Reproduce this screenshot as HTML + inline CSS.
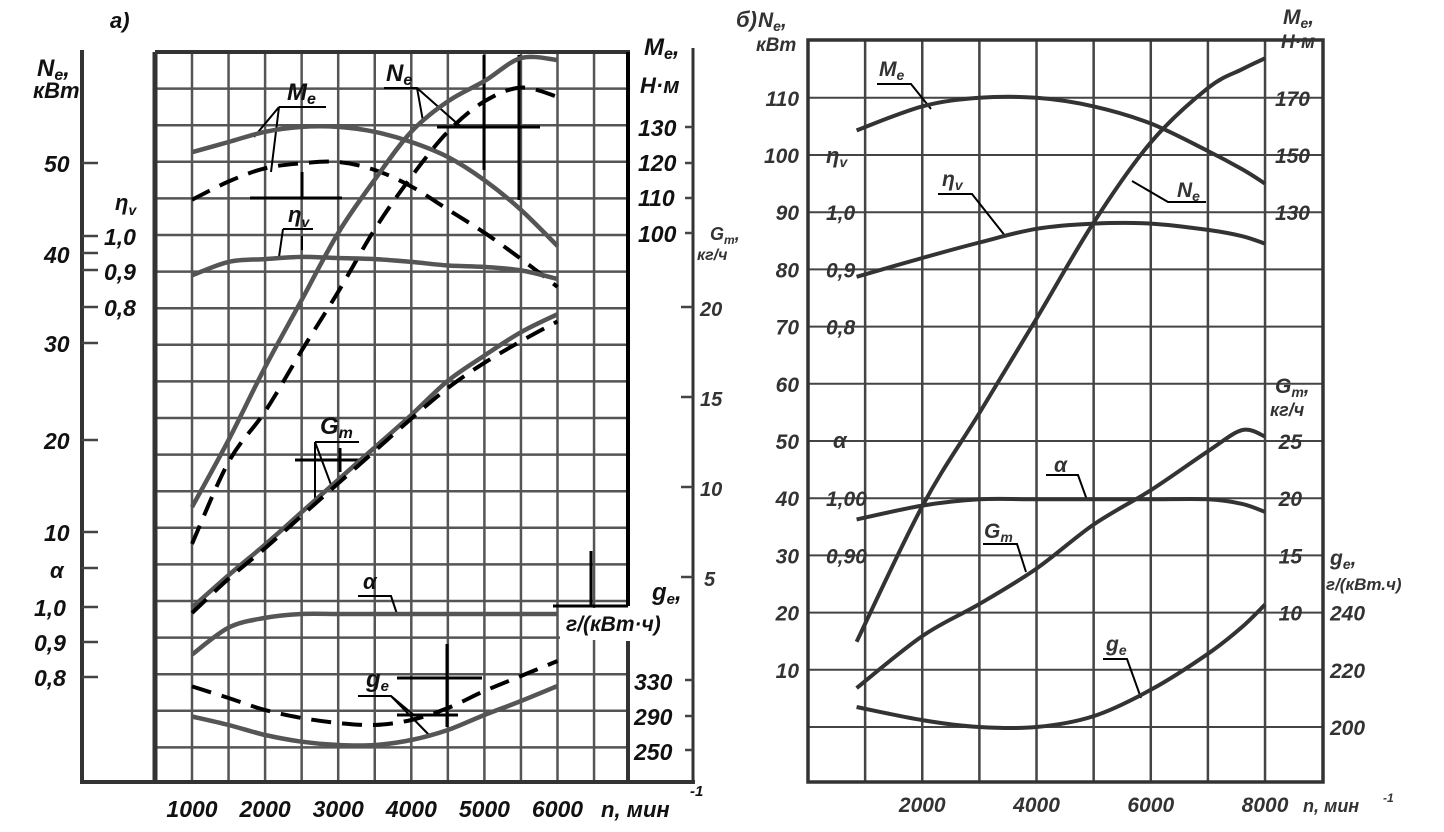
<!DOCTYPE html>
<html><head><meta charset="utf-8">
<style>
html,body{margin:0;padding:0;background:#fff;}
svg{display:block;}
.lb{font-family:"Liberation Sans",sans-serif;font-weight:bold;font-style:italic;fill:#111;}
.rb{font-family:"Liberation Sans",sans-serif;font-style:italic;fill:#333;font-weight:bold;}
</style></head>
<body>
<svg id="chart" width="1444" height="832" viewBox="0 0 1444 832" xmlns="http://www.w3.org/2000/svg">
<rect x="0" y="0" width="1444" height="832" fill="#fff"/>
<g id="gridA"></g>
<g id="gridB"></g>
<g stroke="#333" fill="none">
<line x1="82" y1="50" x2="82" y2="783" stroke-width="4"/>
<line x1="80" y1="782" x2="695" y2="782" stroke-width="4"/>
<line x1="155" y1="52" x2="155" y2="782" stroke-width="5"/>
<line x1="155" y1="52" x2="630" y2="52" stroke-width="4"/>
<line x1="693" y1="48" x2="693" y2="782" stroke-width="3"/>
<line x1="628" y1="52" x2="628" y2="606" stroke="#000" stroke-width="4"/>
<line x1="628" y1="641" x2="628" y2="782" stroke-width="4"/>
</g>
<rect x="560" y="608" width="130" height="32" fill="#fff"/>
<g stroke="#444" stroke-width="2.5">
<line x1="82" y1="163" x2="98" y2="163"/><line x1="82" y1="253" x2="98" y2="253"/><line x1="82" y1="343" x2="98" y2="343"/><line x1="82" y1="440" x2="98" y2="440"/><line x1="82" y1="532" x2="98" y2="532"/>
<line x1="82" y1="236" x2="98" y2="236"/><line x1="82" y1="270" x2="98" y2="270"/><line x1="82" y1="307" x2="98" y2="307"/>
<line x1="82" y1="568" x2="98" y2="568"/><line x1="82" y1="607" x2="98" y2="607"/><line x1="82" y1="642" x2="98" y2="642"/><line x1="82" y1="677" x2="98" y2="677"/>
<line x1="685" y1="127" x2="693" y2="127"/><line x1="685" y1="163" x2="693" y2="163"/><line x1="685" y1="198" x2="693" y2="198"/><line x1="685" y1="233" x2="693" y2="233"/>
<line x1="681" y1="307" x2="693" y2="307"/><line x1="681" y1="397" x2="693" y2="397"/><line x1="681" y1="487" x2="693" y2="487"/><line x1="681" y1="577" x2="693" y2="577"/>
<line x1="685" y1="680" x2="693" y2="680"/><line x1="685" y1="716" x2="693" y2="716"/><line x1="685" y1="750" x2="693" y2="750"/>
</g>
<g>
<text class="lb" x="110" y="28" font-size="22">a)</text>
<text class="lb" x="37" y="76" font-size="24">N<tspan font-size="16" dy="4">e</tspan><tspan dy="-4">,</tspan></text>
<text class="lb" x="33" y="98" font-size="22">кВт</text>
<text class="lb" x="44" y="172" font-size="23">50</text>
<text class="lb" x="44" y="263" font-size="23">40</text>
<text class="lb" x="44" y="352" font-size="23">30</text>
<text class="lb" x="44" y="449" font-size="23">20</text>
<text class="lb" x="44" y="541" font-size="23">10</text>
<text class="lb" x="115" y="210" font-size="22" font-weight="normal">η<tspan font-size="14" dy="5">v</tspan></text>
<text class="lb" x="104" y="245" font-size="23">1,0</text>
<text class="lb" x="104" y="280" font-size="23">0,9</text>
<text class="lb" x="104" y="316" font-size="23">0,8</text>
<text class="lb" x="50" y="578" font-size="22" font-weight="normal">α</text>
<text class="lb" x="34" y="616" font-size="23">1,0</text>
<text class="lb" x="34" y="651" font-size="23">0,9</text>
<text class="lb" x="34" y="686" font-size="23">0,8</text>
<text class="lb" x="644" y="55" font-size="24">M<tspan font-size="16" dy="4">e</tspan><tspan dy="-4">,</tspan></text>
<text class="lb" x="640" y="93" font-size="22">Н·м</text>
<text class="lb" x="638" y="136" font-size="23">130</text>
<text class="lb" x="638" y="171" font-size="23">120</text>
<text class="lb" x="638" y="206" font-size="23">110</text>
<text class="lb" x="638" y="242" font-size="23">100</text>
<text class="rb" x="710" y="240" font-size="18">G<tspan font-size="12" dy="4">т</tspan><tspan dy="-4">,</tspan></text>
<text class="rb" x="697" y="260" font-size="16">кг/ч</text>
<text class="rb" x="700" y="316" font-size="20" font-weight="normal">20</text>
<text class="rb" x="700" y="406" font-size="20" font-weight="normal">15</text>
<text class="rb" x="700" y="496" font-size="20" font-weight="normal">10</text>
<text class="rb" x="704" y="586" font-size="20" font-weight="normal">5</text>
<text class="lb" x="652" y="600" font-size="24">g<tspan font-size="15" dy="4">e</tspan><tspan dy="-4">,</tspan></text>
<text class="lb" x="566" y="631" font-size="21">г/(кВт·ч)</text>
<text class="lb" x="634" y="690" font-size="23">330</text>
<text class="lb" x="634" y="725" font-size="23">290</text>
<text class="lb" x="634" y="760" font-size="23">250</text>
<text class="lb" x="601" y="817" font-size="22">n, мин</text>
<text class="lb" x="690" y="796" font-size="15">-1</text>
</g>
<g id="xlabA"></g>
<g>
<rect x="808" y="40" width="515" height="742" fill="none" stroke="#333" stroke-width="3.5"/>
</g>
<g>
<text class="rb" x="736" y="27" font-size="22">б)</text>
<text class="rb" x="758" y="27" font-size="21" font-weight="normal">N<tspan font-size="14" dy="4">e</tspan><tspan dy="-4">,</tspan></text>
<text class="rb" x="756" y="51" font-size="19" font-weight="normal">кВт</text>
<text class="rb" x="1283" y="24" font-size="21" font-weight="normal">M<tspan font-size="14" dy="4">e</tspan><tspan dy="-4">,</tspan></text>
<text class="rb" x="1281" y="48" font-size="19" font-weight="normal">Н·м</text>
<text class="rb" x="1275" y="393" font-size="21" font-weight="normal">G<tspan font-size="14" dy="4">т</tspan><tspan dy="-4">,</tspan></text>
<text class="rb" x="1270" y="416" font-size="18" font-weight="normal">кг/ч</text>
<text class="rb" x="1330" y="565" font-size="21" font-weight="normal">g<tspan font-size="14" dy="4">e</tspan><tspan dy="-4">,</tspan></text>
<text class="rb" x="1326" y="590" font-size="17" font-weight="normal">г/(кВт.ч)</text>
<text class="rb" x="826" y="163" font-size="22" font-weight="normal">η<tspan font-size="14" dy="4">v</tspan></text>
<text class="rb" x="833" y="448" font-size="22" font-weight="normal">α</text>
<text class="rb" x="1303" y="812" font-size="18" font-weight="normal">n, мин</text>
<text class="rb" x="1383" y="802" font-size="12" font-weight="normal">-1</text>
</g>
<g id="axB"></g>
<g id="annot" stroke="#000" stroke-width="2" fill="none">
<path d="M384,88 L417,88 L423,121 M417,88 L460,126"/>
<path d="M437,127 L540,127" stroke-width="3"/>
<path d="M484,55 L484,170 M519,55 L519,200" stroke-width="3"/>
<path d="M279,107 L326,107 M279,107 L254,137 M279,107 L271,172"/>
<path d="M250,198 L342,198 M302,172 L302,198" stroke-width="3"/>
<path d="M283,229 L313,229 M283,229 L279,257 M302,236 L302,250"/>
<path d="M315,442 L359,442 M315,442 L315,500 M315,442 L333,490"/>
<path d="M295,460 L364,460 M340,448 L340,472" stroke-width="3"/>
<path d="M358,596 L391,596 L397,614"/>
<path d="M358,696 L391,696 L415,716 M391,696 L431,737"/>
<path d="M397,678 L482,678 M447,644 L447,727 M397,715 L458,715" stroke-width="3"/>
<path d="M553,606 L628,606 M591,551 L591,606" stroke-width="3"/>
<path d="M877,84 L911,84 L931,109"/>
<path d="M938,194 L972,194 L1006,237"/>
<path d="M1206,202 L1168,202 L1132,181"/>
<path d="M1046,475 L1078,475 L1087,500"/>
<path d="M983,544 L1017,544 L1026,572"/>
<path d="M1103,659 L1127,659 L1141,698"/>
</g>
<g>
<text class="lb" x="287" y="100" font-size="24">M<tspan font-size="16" dy="4">e</tspan></text>
<text class="lb" x="386" y="81" font-size="24">N<tspan font-size="16" dy="4">e</tspan></text>
<text class="lb" x="288" y="222" font-size="22" font-weight="normal">η<tspan font-size="14" dy="5">v</tspan></text>
<text class="lb" x="320" y="434" font-size="24">G<tspan font-size="16" dy="4">m</tspan></text>
<text class="lb" x="363" y="589" font-size="22" font-weight="normal">α</text>
<text class="lb" x="366" y="687" font-size="24">g<tspan font-size="15" dy="4">e</tspan></text>
<text class="rb" x="879" y="76" font-size="21">M<tspan font-size="14" dy="4">e</tspan></text>
<text class="rb" x="942" y="186" font-size="21" font-weight="normal">η<tspan font-size="14" dy="4">v</tspan></text>
<text class="rb" x="1177" y="197" font-size="21">N<tspan font-size="14" dy="4">e</tspan></text>
<text class="rb" x="1054" y="472" font-size="21" font-weight="normal">α</text>
<text class="rb" x="984" y="538" font-size="21">G<tspan font-size="14" dy="4">т</tspan></text>
<text class="rb" x="1106" y="651" font-size="21">g<tspan font-size="14" dy="4">e</tspan></text>
</g>
<g id="curves"></g>
</svg>
<script>
const rpmA = [1000,1500,2000,2500,3000,3500,4000,4500,5000,5500,6000];
const meSolidA = [123.1,126,128.9,130.3,130.3,128.9,126,121.7,115.1,106.6,96.3];
const meDashA = [109.5,114.7,118.5,119.9,120.3,118,113.3,106.7,100.1,92.6,84.6];
const neSolidA = [12.6,19.9,27.8,35.1,42.4,48.2,53.4,56.7,58.9,61.4,61.2];
const neDashA = [8.6,17.5,23,29.6,36,42.8,48.5,53.4,56.7,58.2,57.2];
const etaA = [0.889,0.927,0.935,0.941,0.938,0.935,0.927,0.917,0.913,0.903,0.879];
const gmSolidA = [3.3,5.1,6.8,8.6,10.4,12.2,14.0,15.9,17.3,18.6,19.6];
const gmDashA = [3.0,4.9,6.6,8.4,10.2,12.0,13.8,15.5,16.9,18.1,19.2];
const alphaA = [0.864,0.941,0.969,0.98,0.98,0.98,0.98,0.98,0.98,0.98,0.98];
const geSolidA = [290,280.3,268.9,261.2,257.4,257.4,263.1,274.6,291.7,307.7,324.9];
const geDashA = [324.4,311.1,297.4,288.3,282.6,280.3,286,299.7,319.1,336.3,353.4];
const xTicksA = [1000,2000,3000,4000,5000,6000];
const rpmB = [850,2000,3000,4000,5000,6000,7000,7600,8000];
const meB = [158.6,167,170,170,167,161,151.4,145,140];
const neB = [14.9,38.6,54.9,71.4,88.2,102.2,111.7,115,116.9];
const etaB = [0.887,0.92,0.947,0.971,0.98,0.98,0.969,0.958,0.945];
const alphaB = [0.963,0.987,0.998,0.998,0.998,0.998,0.998,0.99,0.976];
const gtB = [3.4,7.95,10.75,13.85,17.7,20.7,24.1,25.95,25.4];
const geB = [207,202.4,200,200,203.8,213,225.6,235,242.8];
const xTicksB = [2000,4000,6000,8000];
const neTicksB = [10,20,30,40,50,60,70,80,90,100,110];
const meTicksB = [130,150,170];
const etaTicksB = [0.8,0.9,1.0];
const alphaTicksB = [0.90,1.00];
const gtTicksB = [10,15,20,25];
const geTicksB = [200,220,240];

const xA = n => 192 + (n-1000)*0.0731;
const yNeA = v => 623 - 9.2*v;
const yMeA = v => 233 - (v-100)*3.5;
const yEtaA = v => 236 + (1-v)*355;
const yAlA = v => 607 + (1-v)*350;
const yGA = v => 307 + (20-v)*18;
const yGeA = v => 716.5 - (v-290)*0.875;
const xB = n => 808 + n*0.05713;
const yNeB = v => 727 - 5.72*v;
const yMeB = v => yNeB(90 + (v-130)/2);
const yEtaB = v => yNeB(90 + (v-1)*100);
const yAlB = v => yNeB(40 + (v-1)*100);
const yGtB = v => yNeB(40 + (v-20)*2);
const yGeB = v => yNeB((v-200)/2);

const NS = "http://www.w3.org/2000/svg";
function mk(tag, attrs, parent){
  const el = document.createElementNS(NS, tag);
  for (const k in attrs) el.setAttribute(k, attrs[k]);
  parent.appendChild(el);
  return el;
}
function smooth(pts){
  let d = `M${pts[0][0].toFixed(1)},${pts[0][1].toFixed(1)}`;
  for (let i=0;i<pts.length-1;i++){
    const p0 = pts[i-1]||pts[i], p1 = pts[i], p2 = pts[i+1], p3 = pts[i+2]||pts[i+1];
    const c1x = p1[0]+(p2[0]-p0[0])/6, c1y = p1[1]+(p2[1]-p0[1])/6;
    const c2x = p2[0]-(p3[0]-p1[0])/6, c2y = p2[1]-(p3[1]-p1[1])/6;
    d += ` C${c1x.toFixed(1)},${c1y.toFixed(1)} ${c2x.toFixed(1)},${c2y.toFixed(1)} ${p2[0].toFixed(1)},${p2[1].toFixed(1)}`;
  }
  return d;
}
const gA = document.getElementById('gridA');
for (let n=1000;n<=6500;n+=500){
  const l = mk('line',{x1:xA(n),y1:52,x2:xA(n),y2:782,stroke:'#555','stroke-width':2.5},gA);
  
  
}
for (let i=1;i<20;i++){
  const y = 52 + 36.6*i;
  const l = mk('line',{x1:155,y1:y,x2:628,y2:y,stroke:'#555','stroke-width':2.5},gA);
  
  
}
const gB = document.getElementById('gridB');
for (let n=1000;n<=8000;n+=1000){
  const l = mk('line',{x1:xB(n),y1:40,x2:xB(n),y2:782,stroke:'#444','stroke-width':2.5},gB);
  
  
}
for (let v=0;v<=110;v+=10){
  const l = mk('line',{x1:808,y1:yNeB(v),x2:1323,y2:yNeB(v),stroke:'#444','stroke-width':2},gB);
  
  
}
const xl = document.getElementById('xlabA');
xTicksA.forEach(n=>{
  const t = mk('text',{x:xA(n),y:817,'text-anchor':'middle','font-size':23,class:'lb'},xl);
  t.textContent = n;
  
  
});
const ab = document.getElementById('axB');
function lab(x,y,txt,anchor,size){
  const t = mk('text',{x:x,y:y,'text-anchor':anchor,'font-size':size,class:'rb','font-weight':'normal'},ab);
  t.textContent = txt;
  
  
}
xTicksB.forEach(n=>lab(xB(n),812,n,'middle',21));
neTicksB.forEach(v=>lab(799,yNeB(v)+8,v,'end',21));
meTicksB.forEach(v=>lab(1310,yMeB(v)+8,v,'end',21));
etaTicksB.forEach(v=>lab(826,yEtaB(v)+8,v.toFixed(1).replace('.',','),'start',21));
alphaTicksB.forEach(v=>lab(826,yAlB(v)+8,v.toFixed(2).replace('.',','),'start',21));
gtTicksB.forEach(v=>lab(1302,yGtB(v)+8,v,'end',21));
geTicksB.forEach(v=>lab(1330,yGeB(v)+8,v,'start',21));

const cv = document.getElementById('curves');
function curve(xs, ys, xf, yf, name, style){
  const pts = xs.map((n,i)=>[xf(n), yf(ys[i])]);
  const p = mk('path',Object.assign({d:smooth(pts),fill:'none','stroke-linecap':'butt'},style),cv);
  
  
}
const solidA = {stroke:'#555','stroke-width':4.5};
const dashA = {stroke:'#000','stroke-width':4,'stroke-dasharray':'20 11'};
const solidB = {stroke:'#333','stroke-width':4};
curve(rpmA, meSolidA, xA, yMeA, 'me-solid-curve-a', solidA);
curve(rpmA, meDashA, xA, yMeA, 'me-dashed-curve-a', dashA);
curve(rpmA, neSolidA, xA, yNeA, 'ne-solid-curve-a', solidA);
curve(rpmA, neDashA, xA, yNeA, 'ne-dashed-curve-a', dashA);
curve(rpmA, etaA, xA, yEtaA, 'eta-v-curve-a', solidA);
curve(rpmA, gmSolidA, xA, yGA, 'gm-solid-curve-a', solidA);
curve(rpmA, gmDashA, xA, yGA, 'gm-dashed-curve-a', dashA);
curve(rpmA, alphaA, xA, yAlA, 'alpha-curve-a', solidA);
curve(rpmA, geSolidA, xA, yGeA, 'ge-solid-curve-a', solidA);
curve(rpmA, geDashA, xA, yGeA, 'ge-dashed-curve-a', dashA);
curve(rpmB, meB, xB, yMeB, 'me-curve-b', solidB);
curve(rpmB, neB, xB, yNeB, 'ne-curve-b', solidB);
curve(rpmB, etaB, xB, yEtaB, 'eta-v-curve-b', solidB);
curve(rpmB, alphaB, xB, yAlB, 'alpha-curve-b', solidB);
curve(rpmB, gtB, xB, yGtB, 'gt-curve-b', solidB);
curve(rpmB, geB, xB, yGeB, 'ge-curve-b', solidB);
</script>
</body></html>
